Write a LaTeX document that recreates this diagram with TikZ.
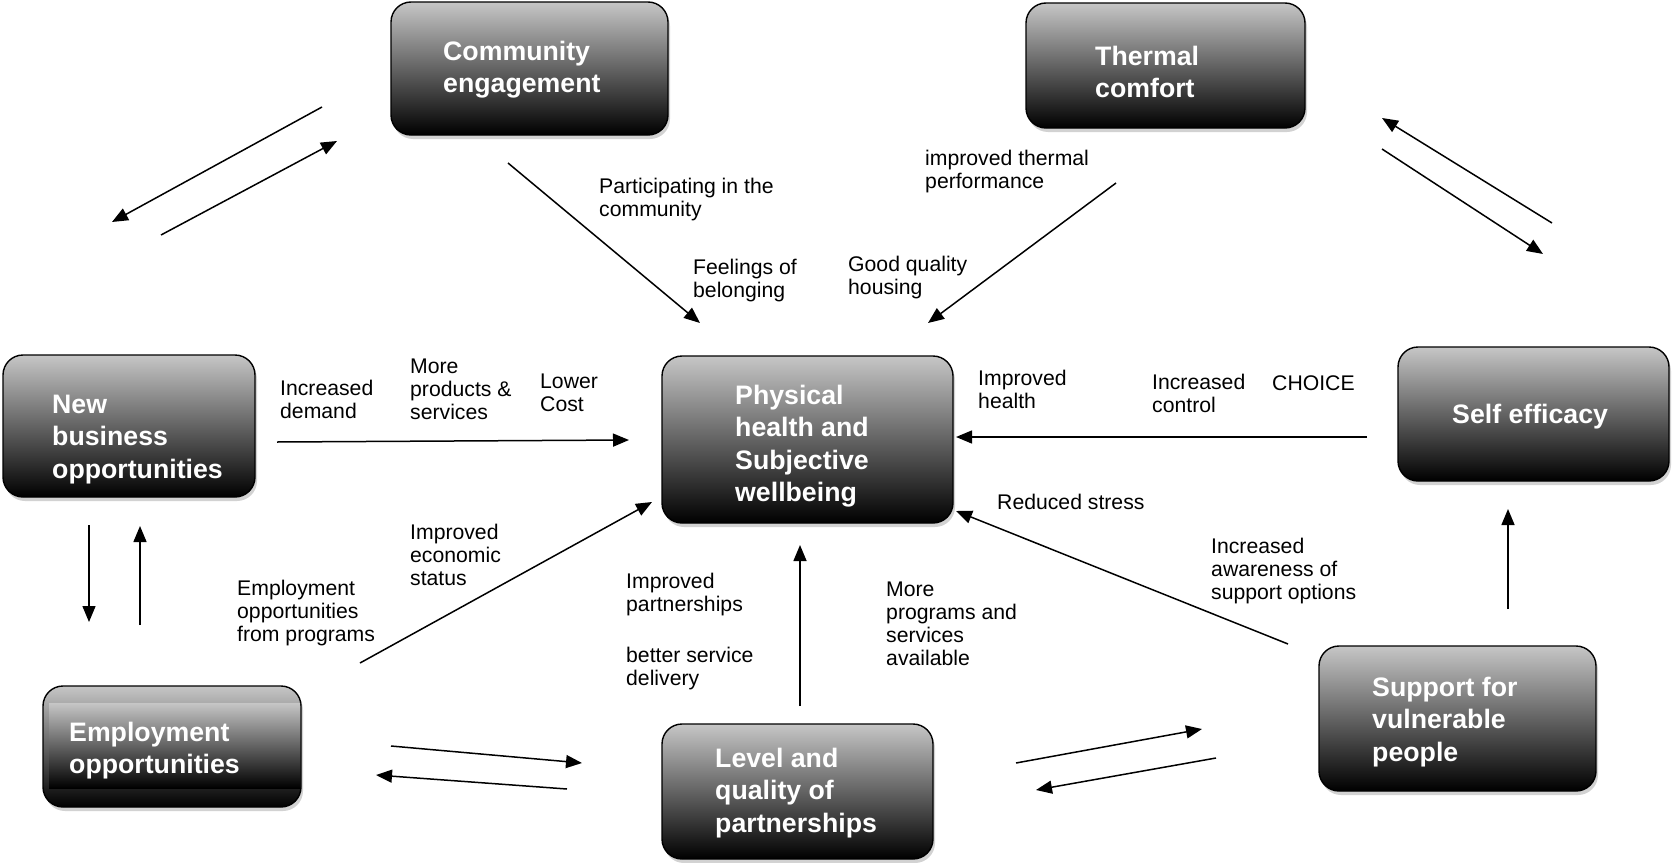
\documentclass[tikz,border=0pt]{standalone}
\usepackage{fontspec}
\setmainfont{Liberation Sans}
\usetikzlibrary{arrows.meta,shadows}
\definecolor{boxtop}{RGB}{198,198,198}

\begin{document}
\begin{tikzpicture}[x=1pt, y=-1pt,
  every node/.style={font=\fontsize{21.2}{23}\selectfont},
  box/.style={draw=black, line width=1.4pt, rounded corners=20pt,
    top color=boxtop, bottom color=black,
    drop shadow={shadow xshift=2pt, shadow yshift=-4pt, opacity=0.35}},
  boxtext/.style={anchor=north west, inner sep=0pt, align=left, text=white,
    font=\fontsize{26.7}{32.3}\selectfont\bfseries},
  lbl/.style={anchor=north west, inner sep=0pt, align=left, yshift=-2pt},
  link/.style={-{Triangle[length=16pt,width=13pt]}, line width=1.5pt}]

  \path[use as bounding box, fill=white] (0,0) rectangle (1672,862);

  % Boxes
  \node[box, minimum width=277pt, minimum height=133pt] (ce) at (529.5,68.5) {};
  \node[box, minimum width=279pt, minimum height=125pt] (tc) at (1165.5,65.5) {};
  \node[box, minimum width=252pt, minimum height=142pt] (nb) at (129,426) {};
  \node[box, minimum width=291pt, minimum height=167pt] (ph) at (807.5,439.5) {};
  \node[box, minimum width=271pt, minimum height=134pt] (se) at (1533.5,414) {};
  \node[box, minimum width=258pt, minimum height=121pt] (eo) at (172,746.5) {};
  \node[box, minimum width=271pt, minimum height=135pt] (lq) at (797.5,791.5) {};
  \node[box, minimum width=277pt, minimum height=145pt] (sv) at (1457.5,718.5) {};

  % Inner band of the employment box
  \shade[top color=boxtop, bottom color=black] (49,703) rectangle (300,788);

  % Box texts
  \node[boxtext] (ce-t) at (443,41) {Community\\engagement};
  \node[boxtext] (tc-t) at (1095,46) {Thermal\\comfort};
  \node[boxtext] (nb-t) at (52,395) {New\\business\\opportunities};
  \node[boxtext] (ph-t) at (735,385) {Physical\\health and\\Subjective\\wellbeing};
  \node[boxtext] (se-t) at (1452,404) {Self efficacy};
  \node[boxtext] (eo-t) at (69,722) {Employment\\opportunities};
  \node[boxtext] (lq-t) at (715,748) {Level and\\quality of\\partnerships};
  \node[boxtext] (sv-t) at (1372,677) {Support for\\vulnerable\\people};

  % Arrow ends
  \coordinate (ce-out) at (508,163);   \coordinate (ph-in1) at (700,323);
  \coordinate (tc-out) at (1116,183);  \coordinate (ph-in2) at (928,323);
  \coordinate (ce-l1) at (322,107);    \coordinate (nb-u1) at (112,222);
  \coordinate (nb-u2) at (161,235);    \coordinate (ce-l2) at (337,141);
  \coordinate (se-u1) at (1552,223);   \coordinate (tc-r1) at (1382,118);
  \coordinate (tc-r2) at (1382,149);   \coordinate (se-u2) at (1543,254);
  \coordinate (nb-r) at (277,442);     \coordinate (ph-w) at (629,440);
  \coordinate (se-w) at (1367,437);    \coordinate (ph-e) at (956,437);
  \coordinate (nb-d1) at (89,525);     \coordinate (eo-u1) at (89,622);
  \coordinate (eo-u2) at (140,625);    \coordinate (nb-d2) at (140,526);
  \coordinate (eo-ne) at (360,663);    \coordinate (ph-sw) at (652,502);
  \coordinate (eo-r1) at (391,746);    \coordinate (lq-l1) at (582,763);
  \coordinate (lq-l2) at (567,789);    \coordinate (eo-r2) at (376,775);
  \coordinate (lq-n) at (800,706);     \coordinate (ph-s) at (800,545);
  \coordinate (lq-r1) at (1016,763);   \coordinate (sv-l1) at (1202,729);
  \coordinate (sv-l2) at (1216,758);   \coordinate (lq-r2) at (1036,790);
  \coordinate (sv-nw) at (1288,644);   \coordinate (ph-se) at (956,511);
  \coordinate (sv-n) at (1508,609);    \coordinate (se-s) at (1508,509);

  % Arrows into wellbeing
  \draw[link] (ce-out) -- (ph-in1);
  \draw[link] (tc-out) -- (ph-in2);
  \draw[link] (nb-r) -- (ph-w);
  \draw[link] (se-w) -- (ph-e);
  \draw[link] (eo-ne) -- (ph-sw);
  \draw[link] (lq-n) -- (ph-s);
  \draw[link] (sv-nw) -- (ph-se);

  % Two-way pairs
  \draw[link] (ce-l1) -- (nb-u1);
  \draw[link] (nb-u2) -- (ce-l2);
  \draw[link] (se-u1) -- (tc-r1);
  \draw[link] (tc-r2) -- (se-u2);
  \draw[link] (nb-d1) -- (eo-u1);
  \draw[link] (eo-u2) -- (nb-d2);
  \draw[link] (eo-r1) -- (lq-l1);
  \draw[link] (lq-l2) -- (eo-r2);
  \draw[link] (lq-r1) -- (sv-l1);
  \draw[link] (sv-l2) -- (lq-r2);
  \draw[link] (sv-n) -- (se-s);

  % Labels
  \node[lbl] (t-part) at (599,176) {Participating in the\\community};
  \node[lbl] (t-feel) at (693,257) {Feelings of\\belonging};
  \node[lbl] (t-therm) at (925,148) {improved thermal\\performance};
  \node[lbl] (t-house) at (848,254) {Good quality\\housing};
  \node[lbl] (t-dem) at (280,378) {Increased\\demand};
  \node[lbl] (t-prod) at (410,357) {More\\products \&\\services};
  \node[lbl] (t-cost) at (540,372) {Lower\\Cost};
  \node[lbl] (t-health) at (978,368) {Improved\\health};
  \node[lbl] (t-ctrl) at (1152,372) {Increased\\control};
  \node[lbl] (t-choice) at (1272,373) {CHOICE};
  \node[lbl] (t-stress) at (997,492) {Reduced stress};
  \node[lbl] (t-econ) at (410,522) {Improved\\economic\\status};
  \node[lbl] (t-empl) at (237,578) {Employment\\opportunities\\from programs};
  \node[lbl] (t-partn) at (626,571) {Improved\\partnerships};
  \node[lbl] (t-serv) at (626,645) {better service\\delivery};
  \node[lbl] (t-prog) at (886,580) {More\\programs and\\services\\available};
  \node[lbl] (t-aware) at (1211,536) {Increased\\awareness of\\support options};

\end{tikzpicture}
\end{document}
